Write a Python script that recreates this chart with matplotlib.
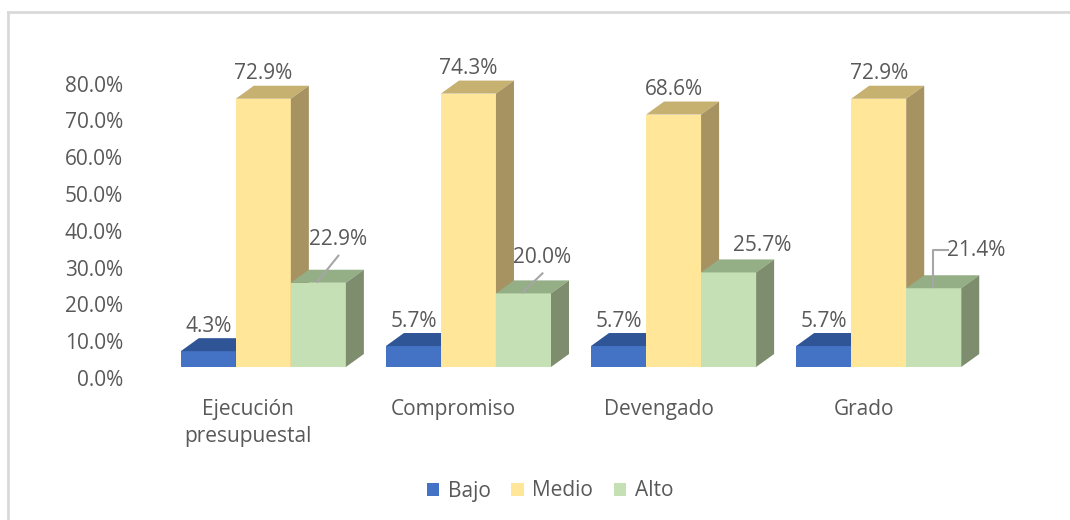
import numpy as np
import matplotlib.pyplot as plt
from matplotlib.patches import Polygon, Patch
from matplotlib.lines import Line2D
from matplotlib.transforms import ScaledTranslation

plt.rcParams['font.family'] = ['Open Sans', 'DejaVu Sans']

# Data
categories = ["Ejecución\npresupuestal", "Compromiso", "Devengado", "Grado"]
series_names = ["Bajo", "Medio", "Alto"]
bajo = [4.3, 5.7, 5.7, 5.7]
medio = [72.9, 74.3, 68.6, 72.9]
alto = [22.9, 20.0, 25.7, 21.4]
y_ticks = [0, 10, 20, 30, 40, 50, 60, 70, 80]

# Colours: front, top, side
front_cols = ["#4472C4", "#FFE699", "#C5E0B4"]
top_cols = ["#2F5597", "#C7B171", "#94AE86"]
side_cols = ["#2B4E8C", "#A69361", "#7E8D6D"]
text_col = "#595959"
fs = 15

# Green label placement (offset pixels from bar top) and leader line style
alto_offsets = [(20, 43), (19, 36), (34, 27), (42, 38)]
alto_leader = ["diag", "diag", None, "elbow"]

fig = plt.figure(figsize=(10.7, 5.2), dpi=100)
W, H = 1070, 520
ax = fig.add_axes([130 / W, 1 - 367 / H, 882 / W, 307 / H])

x = np.arange(len(categories))
w = 55 / 205
dx = 18 / 205
dy = 13 / 3.68

ax.set_xlim(-0.65, 3.65)
ax.set_ylim(0, 307 / 3.68)

series = [bajo, medio, alto]
for s, vals in enumerate(series):
    xs = x + (s - 1) * w
    for xi, v in zip(xs, vals):
        left, right = xi - w / 2, xi + w / 2
        ax.add_patch(Polygon([(left, 0), (right, 0), (right, v), (left, v)],
                             closed=True, facecolor=front_cols[s], edgecolor='none', zorder=2 + s))
        ax.add_patch(Polygon([(left, v), (right, v), (right + dx, v + dy), (left + dx, v + dy)],
                             closed=True, facecolor=top_cols[s], edgecolor='none', zorder=2 + s))
        ax.add_patch(Polygon([(right, 0), (right + dx, dy), (right + dx, v + dy), (right, v)],
                             closed=True, facecolor=side_cols[s], edgecolor='none', zorder=2 + s))

# Data labels
for s in range(2):
    xs = x + (s - 1) * w
    for xi, v in zip(xs, series[s]):
        ax.annotate(f"{v:.1f}%", (xi, v), xytext=(0, 25), textcoords='offset pixels',
                    ha='center', va='center', fontsize=fs, color=text_col, zorder=10)

for i, (xi, v) in enumerate(zip(x + w, alto)):
    ox, oy = alto_offsets[i]
    ax.annotate(f"{v:.1f}%", (xi, v), xytext=(ox, oy), textcoords='offset pixels',
                ha='center', va='center', fontsize=fs, color=text_col, zorder=10)
    base = ax.transData.transform((xi, v))
    if alto_leader[i] == "diag":
        pts = [(base[0] - 1, base[1] + 1), (base[0] + ox, base[1] + oy - 16)]
    elif alto_leader[i] == "elbow":
        pts = [(base[0] - 1, base[1] + 1), (base[0] - 1, base[1] + oy),
               (base[0] + 14, base[1] + oy)]
    else:
        continue
    px = [p[0] for p in pts]
    py = [p[1] for p in pts]
    fig.add_artist(Line2D(np.array(px) / W, np.array(py) / H, color="#A6A6A6", lw=1.5,
                          transform=fig.transFigure, zorder=11))

# Axes styling
for sp in ax.spines.values():
    sp.set_visible(False)
ax.set_yticks(y_ticks)
ax.set_yticklabels([f"{t:.1f}%" for t in y_ticks])
ax.tick_params(axis='y', length=0, pad=5, labelsize=fs, labelcolor=text_col)
for lab in ax.get_yticklabels():
    lab.set_transform(lab.get_transform() + ScaledTranslation(0, -0.11, fig.dpi_scale_trans))

ax.set_xticks(x)
ax.set_xticklabels(categories, fontsize=fs, color=text_col, linespacing=1.35)
ax.tick_params(axis='x', length=0, pad=23)
for lab in ax.get_xticklabels():
    lab.set_transform(lab.get_transform() + ScaledTranslation(-0.15, 0, fig.dpi_scale_trans))
    lab.set_multialignment('center')

# Legend
handles = [Patch(facecolor=c, edgecolor='none') for c in front_cols]
fig.legend(handles, series_names, loc='center', bbox_to_anchor=(550 / W, 1 - 491 / H),
           ncol=3, frameon=False, fontsize=fs, labelcolor=text_col,
           handlelength=0.6, handleheight=0.6, handletextpad=0.4, columnspacing=1.0)

# Chart frame (top and left edges visible)
fig.add_artist(Line2D([8 / W, 8 / W], [0, 1 - 12 / H], color="#D9D9D9", lw=2, transform=fig.transFigure))
fig.add_artist(Line2D([8 / W, 1], [1 - 12 / H, 1 - 12 / H], color="#D9D9D9", lw=2, transform=fig.transFigure))

fig.savefig("out.png", dpi=100)
